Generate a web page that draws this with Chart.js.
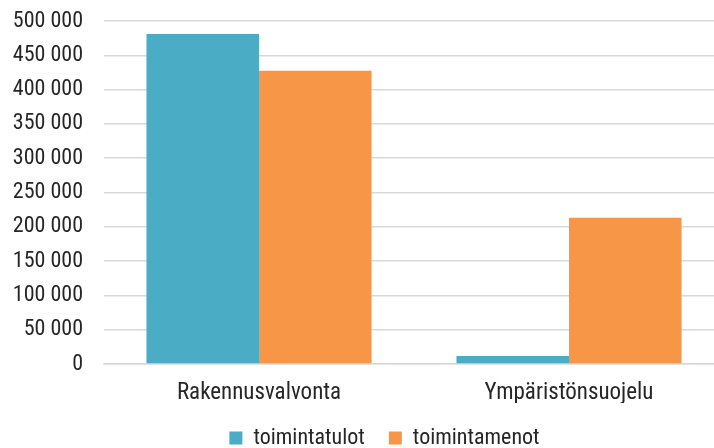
<!DOCTYPE html>
<html>
<head>
<meta charset="utf-8">
<script src="https://cdn.jsdelivr.net/npm/chart.js@4"></script>
<style>
  html, body { margin: 0; padding: 0; background: #fff; overflow: hidden; }
  /* the original is cropped on the right, so the chart is wider than the window */
  #wrap { width: 769px; height: 448px; }
</style>
</head>
<body>
<div id="wrap"><canvas id="myChart"></canvas></div>
<script>
// Data
const categories = ['Rakennusvalvonta', 'Ympäristönsuojelu'];
const toimintatulot = [481000, 11800];
const toimintamenot = [427500, 213200];
const seriesNames = ['toimintatulot', 'toimintamenot'];

// Thousands with a space, like "500 000"
const formatNumber = (v) => String(v).replace(/\B(?=(\d{3})+(?!\d))/g, ' ');

// Narrow font, close to Arial Narrow of the original
Chart.defaults.font.family = '"Roboto Condensed", "DejaVu Sans Condensed", sans-serif';
Chart.defaults.color = '#262626';

const ctx = document.getElementById('myChart').getContext('2d');

new Chart(ctx, {
    type: 'bar',
    data: {
        labels: categories,
        datasets: [
            {
                label: seriesNames[0],
                data: toimintatulot,
                backgroundColor: '#4BACC6',
                categoryPercentage: 0.726,
                barPercentage: 1
            },
            {
                label: seriesNames[1],
                data: toimintamenot,
                backgroundColor: '#F79646',
                categoryPercentage: 0.726,
                barPercentage: 1
            }
        ]
    },
    options: {
        responsive: true,
        maintainAspectRatio: false,
        animation: false,
        layout: { padding: { top: 21, right: 0, left: 0, bottom: -11 } },
        plugins: {
            legend: {
                position: 'bottom',
                labels: {
                    boxWidth: 13,
                    boxHeight: 13,
                    padding: 24,
                    font: { size: 22 },
                    color: '#262626'
                }
            },
            tooltip: { enabled: false }
        },
        scales: {
            y: {
                min: 0,
                max: 500000,
                ticks: {
                    stepSize: 50000,
                    autoSkip: false,
                    padding: 21,
                    font: { size: 22 },
                    callback: (v) => formatNumber(v)
                },
                grid: { color: '#d9d9d9', lineWidth: 1.5, drawTicks: false },
                border: { display: false },
                afterFit: (scale) => {
                    scale.width = 104;
                    scale.paddingTop = 0;
                    scale.paddingBottom = 0;
                }
            },
            x: {
                ticks: { padding: 15, font: { size: 23 } },
                grid: { display: false, drawTicks: false },
                border: { display: true, color: '#d9d9d9', width: 1.5 },
                afterFit: (scale) => {
                    scale.height = 39;
                    scale.paddingLeft = 0;
                    scale.paddingRight = 45; // plot ends at 724, past the window edge
                }
            }
        }
    }
});
</script>
</body>
</html>
